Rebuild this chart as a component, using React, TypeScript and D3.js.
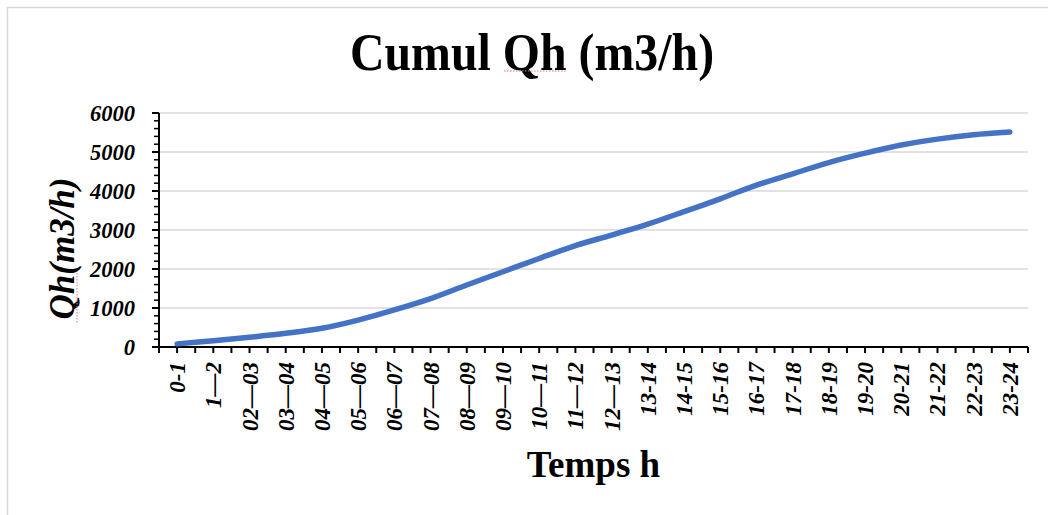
import React from "react";
import * as d3 from "d3";

// Hourly periods on the category axis
const periods: string[] = [
  "0-1", "1—2", "02—03", "03—04", "04—05", "05—06", "06—07", "07—08",
  "08—09", "09—10", "10—11", "11—12", "12—13", "13-14", "14-15", "15-16",
  "16-17", "17-18", "18-19", "19-20", "20-21", "21-22", "22-23", "23-24",
];

// Cumulative flow (m3/h) at the end of each period
const cumulQh: number[] = [
  80, 160, 250, 350, 480, 690, 950, 1240, 1590, 1930, 2270, 2600,
  2870, 3150, 3470, 3800, 4150, 4440, 4730, 4970, 5180, 5330, 5440, 5510,
];

const yTicks: number[] = [0, 1000, 2000, 3000, 4000, 5000, 6000];
const yMinorStep = 200;

const W = 1048;
const H = 515;
const left = 159;
const right = 1028;
const top = 113;
const bottom = 347;

const FONT = "'Liberation Serif', 'Times New Roman', Times, serif";
const SQUIGGLE = "#e57373";

export default function App() {
  const x = d3.scaleBand<string>().domain(periods).range([left, right]).paddingInner(0).paddingOuter(0);
  const y = d3.scaleLinear().domain([0, 6000]).range([bottom, top]);
  const bw = x.bandwidth();
  const cx = (p: string) => (x(p) as number) + bw / 2;

  const line = d3
    .line<number>()
    .x((_, i) => cx(periods[i]))
    .y((v) => y(v))
    .curve(d3.curveCatmullRom.alpha(0.5));

  const minorTicks = d3.range(0, 6000 + 1, yMinorStep).filter((v) => v % 1000 !== 0);
  const xTickPositions = d3.range(0, periods.length * 2 + 1).map((k) => left + (k * bw) / 2);

  return (
    <svg
      width={W}
      height={H}
      style={{ position: "absolute", left: 0, top: 0, display: "block", background: "#fff" }}
      fontFamily={FONT}
    >
      {/* chart area frame */}
      <rect x={7.5} y={7.5} width={W + 20} height={H + 20} fill="#fff" stroke="#d9d9d9" strokeWidth={1.5} />

      {/* title */}
      <g transform="translate(532,70) scale(0.92,1)">
        <text textAnchor="middle" fontSize={52} fontWeight="bold" fill="#000">
          Cumul Qh (m3/h)
        </text>
      </g>
      <line x1={504} x2={567} y1={71} y2={71} stroke={SQUIGGLE} strokeWidth={1} strokeDasharray="1.5 1.5" />

      {/* horizontal gridlines */}
      {yTicks.filter((t) => t !== 0).map((t) => (
        <line key={"g" + t} x1={left} x2={right} y1={y(t)} y2={y(t)} stroke="#d9d9d9" strokeWidth={1.5} />
      ))}

      {/* y axis */}
      <line x1={left} x2={left} y1={top} y2={bottom} stroke="#000" strokeWidth={2} />
      {yTicks.map((t) => (
        <line key={"yt" + t} x1={left - 7} x2={left} y1={y(t)} y2={y(t)} stroke="#000" strokeWidth={2} />
      ))}
      {minorTicks.map((t) => (
        <line key={"ym" + t} x1={left - 5} x2={left} y1={y(t)} y2={y(t)} stroke="#000" strokeWidth={1.5} />
      ))}
      {yTicks.map((t) => (
        <text
          key={"yl" + t}
          x={135}
          y={y(t) + 7.5}
          textAnchor="end"
          fontSize={22.5}
          fontWeight="bold"
          fontStyle="italic"
          fill="#000"
        >
          {t}
        </text>
      ))}

      {/* x axis */}
      <line x1={left} x2={right} y1={bottom} y2={bottom} stroke="#000" strokeWidth={2} />
      {xTickPositions.map((px, i) => (
        <line key={"xt" + i} x1={px} x2={px} y1={bottom} y2={bottom + 6} stroke="#000" strokeWidth={2} />
      ))}
      {periods.map((p) => (
        <text
          key={"xl" + p}
          transform={`translate(${cx(p) + 8},362) rotate(-90)`}
          textAnchor="end"
          fontSize={23}
          fontWeight="bold"
          fontStyle="italic"
          fill="#000"
        >
          {p}
        </text>
      ))}

      {/* data line */}
      <path
        d={line(cumulQh) || ""}
        fill="none"
        stroke="#4472C4"
        strokeWidth={5.5}
        strokeLinecap="round"
        strokeLinejoin="round"
      />

      {/* axis titles */}
      <text x={(left + right) / 2} y={477} textAnchor="middle" fontSize={37} fontWeight="bold" fill="#000">
        Temps h
      </text>
      <g transform={`translate(74,${(175 + 322) / 2}) rotate(-90)`}>
        <text textAnchor="middle" fontSize={35} fontWeight="bold" fontStyle="italic" fill="#000">
          Qh(m3/h)
        </text>
        <line x1={-74} x2={-24} y1={3} y2={3} stroke={SQUIGGLE} strokeWidth={1} strokeDasharray="1.5 1.5" />
      </g>
    </svg>
  );
}
